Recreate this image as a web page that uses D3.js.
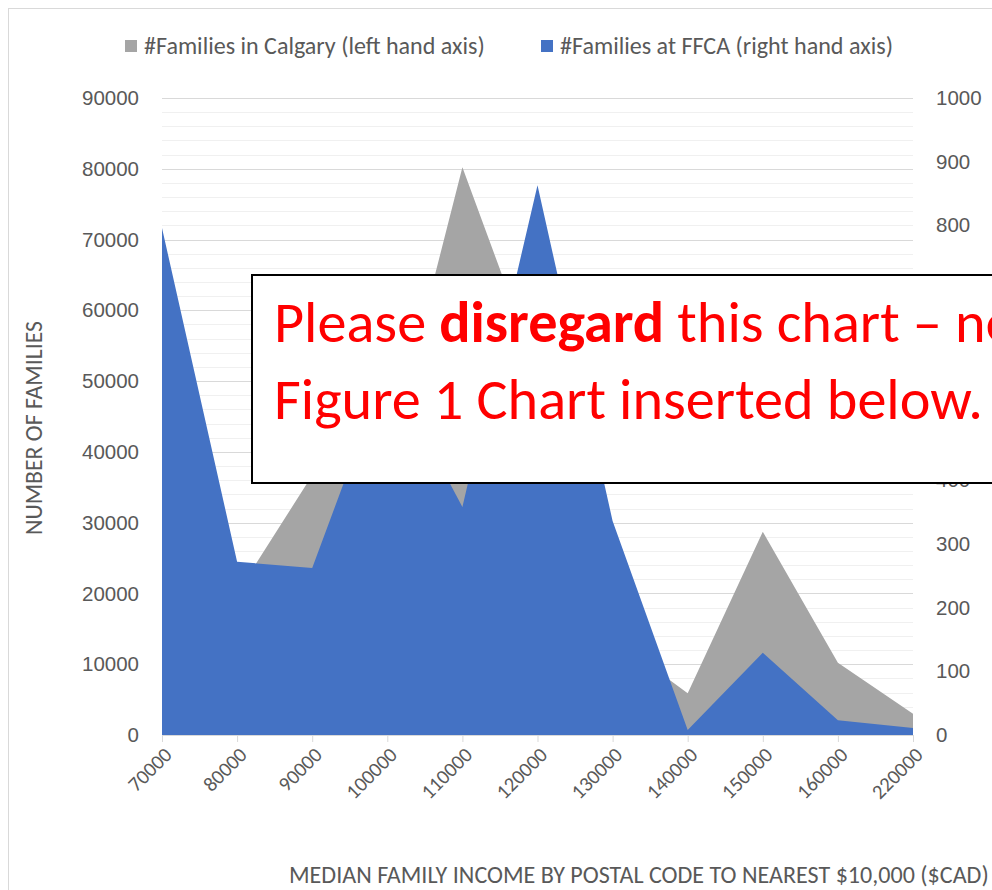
<!DOCTYPE html>
<html>
<head>
<meta charset="utf-8">
<script src="https://cdn.jsdelivr.net/npm/d3@7"></script>
<style>
  html, body { margin: 0; padding: 0; background: #fff; }
  svg { display: block; font-family: Carlito, Calibri, Lato, sans-serif; }
</style>
</head>
<body>
<div id="chart"></div>
<script>
// values
const incomes = ['70000', '80000', '90000', '100000', '110000', '120000', '130000', '140000', '150000', '160000', '220000'];
const calgaryFamilies = [40000, 20000, 36700, 38600, 80200, 51400, 13700, 5900, 28700, 10200, 3000];
const ffcaFamilies = [796, 272, 262, 580, 358, 863, 336, 8, 129, 23, 11];
const leftTicks = [0, 10000, 20000, 30000, 40000, 50000, 60000, 70000, 80000, 90000];
const rightTicks = [0, 100, 200, 300, 400, 500, 600, 700, 800, 900, 1000];
const legendLabels = ['#Families in Calgary (left hand axis)', '#Families at FFCA (right hand axis)'];

// scale a text's font size so it runs the given width
const fitWidth = (sel, target) => {
  const base = +sel.attr('font-size');
  const w = sel.node().getComputedTextLength();
  sel.attr('font-size', base * target / w);
};

class IncomeChart {
  constructor(el) {
    this.el = el;
    this.width = 992;
    this.height = 890;
    this.plot = { left: 162, right: 913, top: 98, bottom: 735 };
    this.textColor = '#595959';
    this.gray = '#a5a5a5';
    this.blue = '#4472c4';
  }

  render() {
    this.svg = d3.select(this.el).append('svg')
        .attr('width', this.width)
        .attr('height', this.height);

    this.x = d3.scalePoint()
        .domain(incomes)
        .range([this.plot.left, this.plot.right]);
    this.yLeft = d3.scaleLinear()
        .domain([0, 90000])
        .range([this.plot.bottom, this.plot.top]);
    this.yRight = d3.scaleLinear()
        .domain([0, 1000])
        .range([this.plot.bottom, this.plot.top]);

    this.svg.append('rect')
        .attr('x', 8.5).attr('y', 8.5)
        .attr('width', 1100).attr('height', 1000)
        .attr('fill', '#fff')
        .attr('stroke', '#d9d9d9');

    this.drawGrid();
    this.drawAreas();
    this.drawAxes();
    this.drawLegend();
    this.drawNotice();
  }

  drawGrid() {
    const g = this.svg.append('g').attr('class', 'grid');

    // minor lines every 2000, major every 10000
    g.selectAll('.minor')
        .data(d3.range(0, 90001, 2000).filter(d => d % 10000 !== 0))
      .enter().append('line')
        .attr('x1', this.plot.left).attr('x2', this.plot.right)
        .attr('y1', d => Math.round(this.yLeft(d)) + 0.5)
        .attr('y2', d => Math.round(this.yLeft(d)) + 0.5)
        .attr('stroke', '#f0f0f0');

    g.selectAll('.major')
        .data(leftTicks.slice(1))
      .enter().append('line')
        .attr('x1', this.plot.left).attr('x2', this.plot.right)
        .attr('y1', d => Math.round(this.yLeft(d)) + 0.5)
        .attr('y2', d => Math.round(this.yLeft(d)) + 0.5)
        .attr('stroke', '#d9d9d9');
  }

  drawAreas() {
    const calgaryArea = d3.area()
        .x((d, i) => this.x(incomes[i]))
        .y0(this.yLeft(0))
        .y1(d => this.yLeft(d));

    const ffcaArea = d3.area()
        .x((d, i) => this.x(incomes[i]))
        .y0(this.yRight(0))
        .y1(d => this.yRight(d));

    this.svg.append('path')
        .datum(calgaryFamilies)
        .attr('fill', this.gray)
        .attr('d', calgaryArea);

    this.svg.append('path')
        .datum(ffcaFamilies)
        .attr('fill', this.blue)
        .attr('d', ffcaArea);
  }

  drawAxes() {
    const xAxis = this.svg.append('g')
        .attr('transform', `translate(0,${this.plot.bottom})`)
        .call(d3.axisBottom(this.x).tickSize(7).tickSizeOuter(0).tickFormat(''));

    xAxis.select('.domain').attr('stroke', '#d9d9d9');
    xAxis.selectAll('.tick line').attr('stroke', '#d9d9d9');

    this.svg.append('g')
        .attr('class', 'x-labels')
      .selectAll('text')
        .data(incomes)
      .enter().append('text')
        .attr('transform', d => `translate(${this.x(d) + 6},${this.plot.bottom + 16}) rotate(-45)`)
        .attr('text-anchor', 'end')
        .attr('dy', '0.35em')
        .attr('font-size', 20.5)
        .attr('fill', this.textColor)
        .text(d => d);

    const leftAxis = this.svg.append('g')
        .attr('transform', `translate(${this.plot.left},0)`)
        .call(d3.axisLeft(this.yLeft).tickValues(leftTicks).tickSize(0).tickPadding(23).tickFormat(d3.format('d')));
    leftAxis.select('.domain').remove();
    leftAxis.selectAll('text')
        .attr('font-family', null)
        .attr('font-size', 20.5)
        .attr('fill', this.textColor);

    const rightAxis = this.svg.append('g')
        .attr('transform', `translate(${this.plot.right},0)`)
        .call(d3.axisRight(this.yRight).tickValues(rightTicks).tickSize(0).tickPadding(23).tickFormat(d3.format('d')));
    rightAxis.select('.domain').remove();
    rightAxis.selectAll('text')
        .attr('font-family', null)
        .attr('font-size', 20.5)
        .attr('fill', this.textColor);

    const yTitle = this.svg.append('text')
        .attr('transform', 'translate(42,428) rotate(-90)')
        .attr('text-anchor', 'middle')
        .attr('font-size', 20)
        .attr('fill', this.textColor)
        .text('NUMBER OF FAMILIES');
    fitWidth(yTitle, 214);

    const xTitle = this.svg.append('text')
        .attr('x', 289)
        .attr('y', 883)
        .attr('font-size', 20)
        .attr('fill', this.textColor)
        .text('MEDIAN FAMILY INCOME BY POSTAL CODE TO NEAREST $10,000 ($CAD)');
    fitWidth(xTitle, 700);
  }

  drawLegend() {
    const items = [
      { label: legendLabels[0], color: this.gray, x: 125, w: 341 },
      { label: legendLabels[1], color: this.blue, x: 541, w: 333 }
    ];

    const legend = this.svg.append('g')
        .attr('class', 'legend')
      .selectAll('g')
        .data(items)
      .enter().append('g')
        .attr('transform', d => `translate(${d.x},40)`);

    legend.append('rect')
        .attr('width', 12).attr('height', 12)
        .attr('fill', d => d.color);

    legend.append('text')
        .attr('x', 19)
        .attr('y', 14)
        .attr('font-size', 20)
        .attr('fill', this.textColor)
        .text(d => d.label)
        .each(function(d) { fitWidth(d3.select(this), d.w); });
  }

  drawNotice() {
    const g = this.svg.append('g').attr('class', 'notice');

    g.append('rect')
        .attr('x', 252).attr('y', 275)
        .attr('width', 900).attr('height', 208)
        .attr('fill', '#fff')
        .attr('stroke', '#000')
        .attr('stroke-width', 2);

    const line1 = g.append('text')
        .attr('x', 274).attr('y', 342)
        .attr('fill', '#ff0000');
    line1.append('tspan').text('Please ');
    line1.append('tspan').attr('font-weight', 'bold').text('disregard');
    line1.append('tspan').text(' this chart \u2013 new');

    const line2 = g.append('text')
        .attr('x', 274).attr('y', 419)
        .attr('fill', '#ff0000')
        .attr('font-size', 50)
        .text('Figure 1 Chart inserted below.');

    // second line spans the same width as the original
    fitWidth(line2, 709);
    line1.attr('font-size', line2.attr('font-size'));
  }
}

new IncomeChart('#chart').render();
</script>
</body>
</html>
